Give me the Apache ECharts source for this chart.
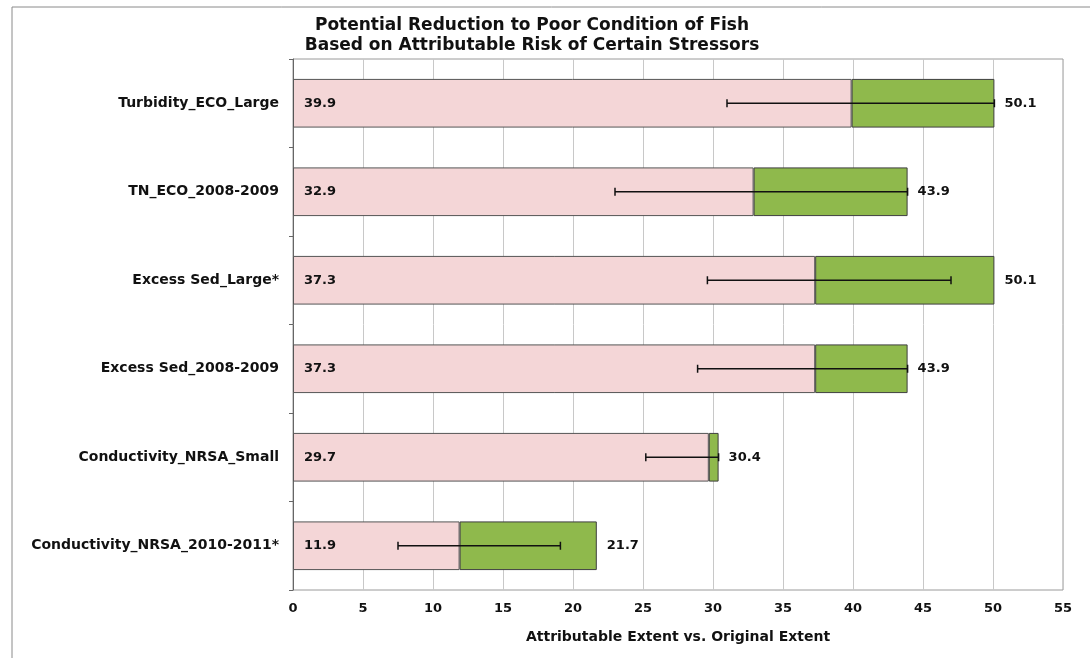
<!DOCTYPE html>
<html>
<head>
<meta charset="utf-8">
<script src="https://cdn.jsdelivr.net/npm/echarts@6/dist/echarts.min.js"></script>
<style>
  html, body { margin: 0; padding: 0; background: #fff; }
  #chart { width: 1090px; height: 658px; }
</style>
</head>
<body>
<div id="chart"></div>
<script>
// stressor categories, top to bottom
const categories = [
    'Turbidity_ECO_Large',
    'TN_ECO_2008-2009',
    'Excess Sed_Large*',
    'Excess Sed_2008-2009',
    'Conductivity_NRSA_Small',
    'Conductivity_NRSA_2010-2011*'
];
// attributable extent (pink part) and original extent (end of green part)
const attributable = [39.9, 32.9, 37.3, 37.3, 29.7, 11.9];
const original = [50.1, 43.9, 50.1, 43.9, 30.4, 21.7];
// error bar ends
const errLow = [31.0, 23.0, 29.6, 28.9, 25.2, 7.5];
const errHigh = [50.1, 43.9, 47.0, 43.9, 30.4, 19.1];
const xTicks = [0, 5, 10, 15, 20, 25, 30, 35, 40, 45, 50, 55];

const font = '"DejaVu Sans", "Liberation Sans", Arial, sans-serif';
const chart = echarts.init(document.getElementById('chart'));

const diff = original.map((v, i) => +(v - attributable[i]).toFixed(1));
const errData = categories.map((c, i) => [i, errLow[i], errHigh[i]]);

const option = {
    animation: false,
    textStyle: { fontFamily: font },
    title: {
        text: 'Potential Reduction to Poor Condition of Fish\nBased on Attributable Risk of Certain Stressors',
        left: 527,
        textAlign: 'center',
        top: 11,
        textStyle: { fontSize: 17, fontWeight: 'bold', color: '#111', lineHeight: 20, fontFamily: font }
    },
    graphic: [{
        type: 'rect',
        shape: { x: 12, y: 7, width: 1100, height: 700 },
        style: { fill: 'none', stroke: '#8a8a8a', lineWidth: 1 },
        silent: true,
        z: -1
    }],
    grid: {
        left: 293, right: 27, top: 59, bottom: 68,
        show: true, borderColor: '#9a9a9a', borderWidth: 1
    },
    xAxis: {
        type: 'value',
        min: 0, max: 55, interval: 5,
        name: 'Attributable Extent vs. Original Extent',
        nameLocation: 'middle',
        nameGap: 40,
        nameTextStyle: { fontSize: 14, fontWeight: 'bold', color: '#111', fontFamily: font },
        axisLine: { show: false },
        axisTick: { show: false },
        axisLabel: {
            fontSize: 13, fontWeight: 'bold', color: '#111', margin: 12,
            formatter: v => xTicks.indexOf(v) >= 0 ? String(v) : ''
        },
        splitLine: { show: true, lineStyle: { color: '#c8c8c8', width: 1 } }
    },
    yAxis: {
        type: 'category',
        data: categories,
        inverse: true,
        axisLine: { show: true, lineStyle: { color: '#666' } },
        axisTick: { show: true, length: 4, lineStyle: { color: '#666' } },
        axisLabel: { fontSize: 14, fontWeight: 'bold', color: '#111', margin: 14 },
        splitLine: { show: false }
    },
    series: [
        {
            name: 'attributable',
            type: 'bar',
            stack: 'ext',
            barWidth: '55%',
            data: attributable,
            itemStyle: { color: '#f4d6d7', borderColor: '#555', borderWidth: 1 },
            label: {
                show: true, position: 'insideLeft', distance: 11,
                fontSize: 13, fontWeight: 'bold', color: '#111',
                formatter: p => attributable[p.dataIndex].toFixed(1)
            }
        },
        {
            name: 'original',
            type: 'bar',
            stack: 'ext',
            barWidth: '55%',
            data: diff,
            itemStyle: { color: '#8fb94c', borderColor: '#3f3f3f', borderWidth: 1 },
            label: {
                show: true, position: 'right', distance: 10,
                fontSize: 13, fontWeight: 'bold', color: '#111',
                formatter: p => original[p.dataIndex].toFixed(1)
            }
        },
        {
            name: 'error',
            type: 'custom',
            data: errData,
            encode: { x: [1, 2], y: 0 },
            z: 10,
            renderItem: function (params, api) {
                const idx = api.value(0);
                const a = api.coord([api.value(1), idx]);
                const b = api.coord([api.value(2), idx]);
                const h = 4;
                const style = { stroke: '#111', lineWidth: 1.5 };
                return {
                    type: 'group',
                    children: [
                        { type: 'line', shape: { x1: a[0], y1: a[1], x2: b[0], y2: b[1] }, style: style },
                        { type: 'line', shape: { x1: a[0], y1: a[1] - h, x2: a[0], y2: a[1] + h }, style: style },
                        { type: 'line', shape: { x1: b[0], y1: b[1] - h, x2: b[0], y2: b[1] + h }, style: style }
                    ]
                };
            }
        }
    ]
};

chart.setOption(option);
</script>
</body>
</html>
